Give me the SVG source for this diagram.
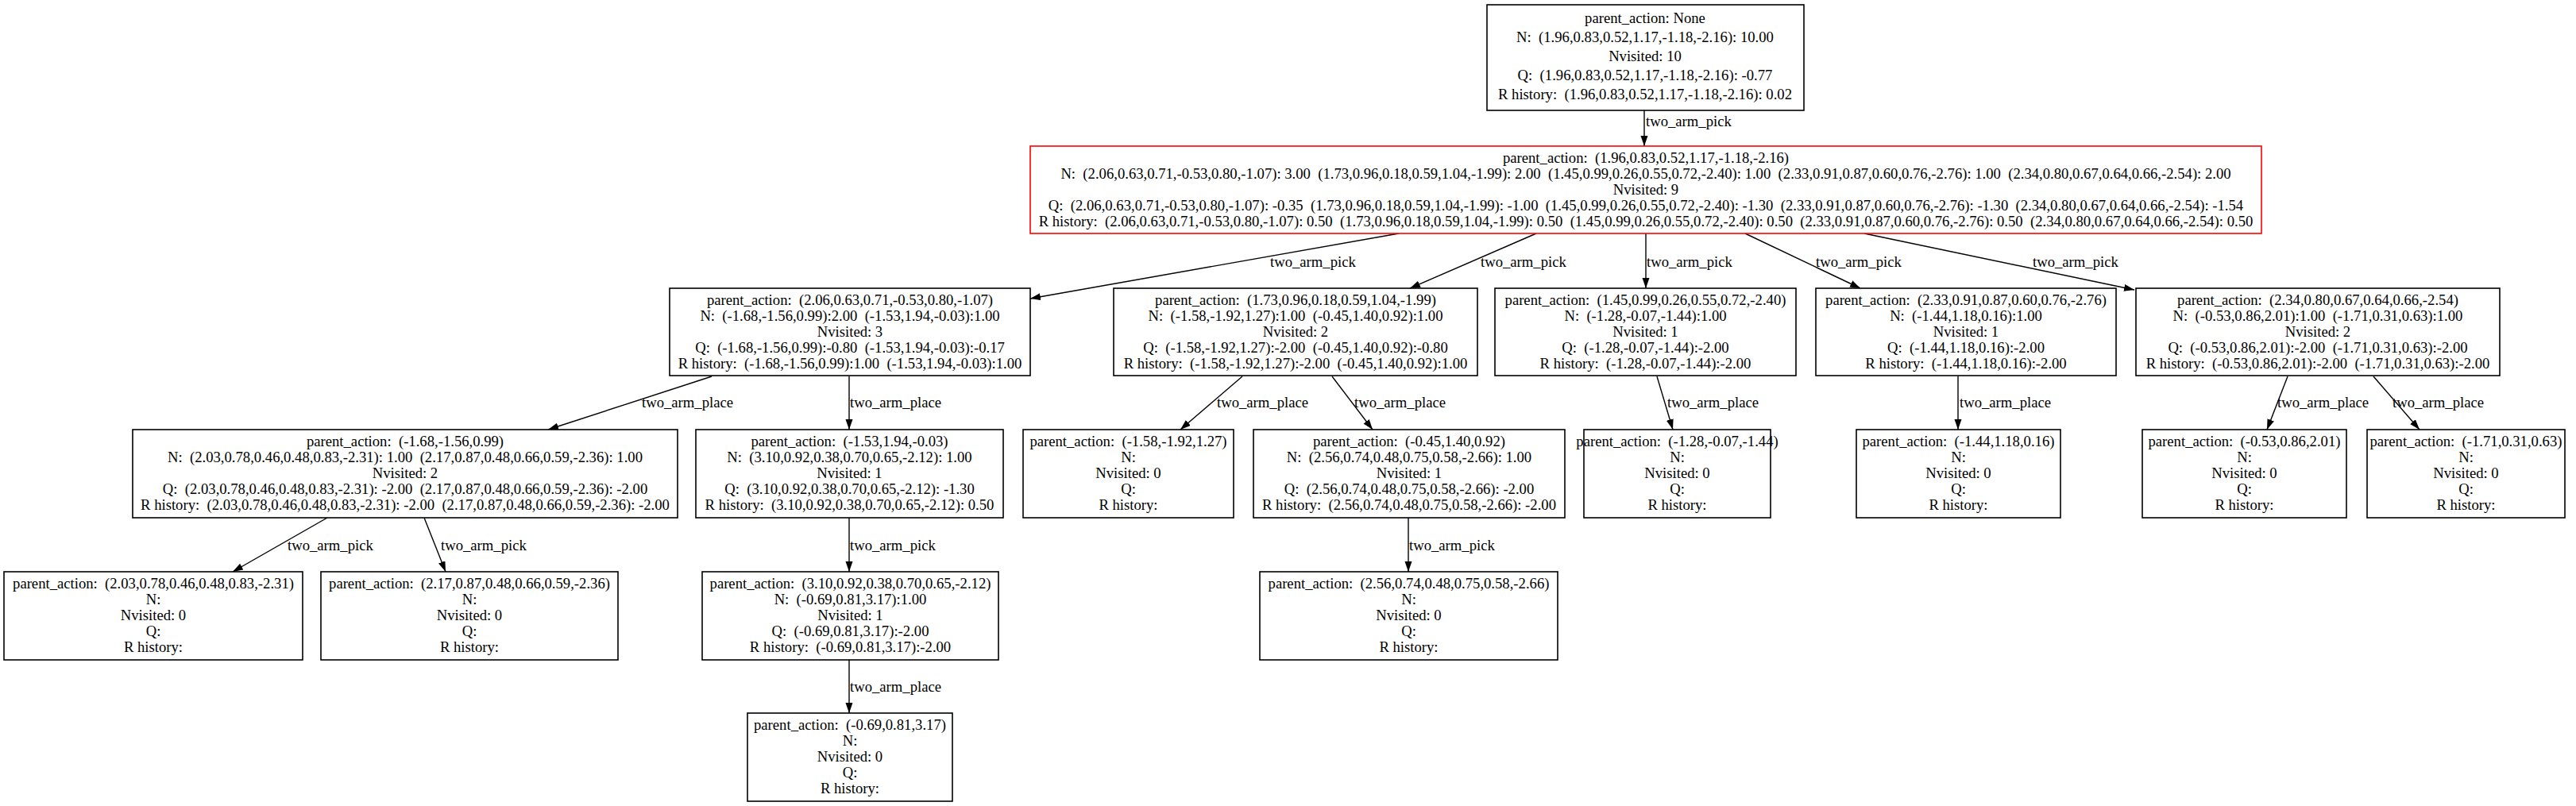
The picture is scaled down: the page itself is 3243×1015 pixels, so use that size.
<svg xmlns="http://www.w3.org/2000/svg" width="3243" height="1015" viewBox="0 0 3243 1015" xml:space="preserve">
<style>
.bg{fill:#ffffff}
.box{fill:#ffffff;stroke:#000000;stroke-width:1.6}
.hl{fill:#ffffff;stroke:#ff0000;stroke-width:1.6}
text{font-family:"Liberation Serif","Times New Roman",serif;font-size:18.67px;fill:#000000;white-space:pre}
.c{text-anchor:middle}
.lbl{text-anchor:start}
.edge{fill:none;stroke:#000000;stroke-width:1.4}
</style>
<defs>
<marker id="arr" markerUnits="userSpaceOnUse" markerWidth="14" markerHeight="10" refX="13" refY="4.5" orient="auto">
<path d="M0,0 L13,4.5 L0,9 z" fill="#000000"/>
</marker>
</defs>
<rect class="bg" x="0" y="0" width="3243" height="1015"/>

<g id="edges">
<path class="edge" marker-end="url(#arr)" d="M2070,139 L2070,184"/>
<text class="lbl" x="2072" y="159">two_arm_pick</text>
<path class="edge" marker-end="url(#arr)" d="M1761,294 L1297,376"/>
<text class="lbl" x="1599" y="336">two_arm_pick</text>
<path class="edge" marker-end="url(#arr)" d="M1934,294 L1775,363"/>
<text class="lbl" x="1864" y="336">two_arm_pick</text>
<path class="edge" marker-end="url(#arr)" d="M2072,294 L2072,363"/>
<text class="lbl" x="2073" y="336">two_arm_pick</text>
<path class="edge" marker-end="url(#arr)" d="M2197,294 L2342,363"/>
<text class="lbl" x="2286" y="336">two_arm_pick</text>
<path class="edge" marker-end="url(#arr)" d="M2347,294 L2687,365"/>
<text class="lbl" x="2559" y="336">two_arm_pick</text>

<path class="edge" marker-end="url(#arr)" d="M896,474 L690,541"/>
<text class="lbl" x="808" y="513">two_arm_place</text>
<path class="edge" marker-end="url(#arr)" d="M1069,474 L1069,541"/>
<text class="lbl" x="1070" y="513">two_arm_place</text>
<path class="edge" marker-end="url(#arr)" d="M1564,474 L1486,541"/>
<text class="lbl" x="1532" y="513">two_arm_place</text>
<path class="edge" marker-end="url(#arr)" d="M1677,474 L1728,541"/>
<text class="lbl" x="1705" y="513">two_arm_place</text>
<path class="edge" marker-end="url(#arr)" d="M2086,474 L2106,541"/>
<text class="lbl" x="2099" y="513">two_arm_place</text>
<path class="edge" marker-end="url(#arr)" d="M2465,474 L2465,541"/>
<text class="lbl" x="2467" y="513">two_arm_place</text>
<path class="edge" marker-end="url(#arr)" d="M2880,474 L2854,541"/>
<text class="lbl" x="2867" y="513">two_arm_place</text>
<path class="edge" marker-end="url(#arr)" d="M2988,474 L3046,541"/>
<text class="lbl" x="3012" y="513">two_arm_place</text>

<path class="edge" marker-end="url(#arr)" d="M412,652 L293,720"/>
<text class="lbl" x="362" y="693">two_arm_pick</text>
<path class="edge" marker-end="url(#arr)" d="M534,652 L561,720"/>
<text class="lbl" x="555" y="693">two_arm_pick</text>
<path class="edge" marker-end="url(#arr)" d="M1069,652 L1069,720"/>
<text class="lbl" x="1070" y="693">two_arm_pick</text>
<path class="edge" marker-end="url(#arr)" d="M1773,652 L1773,720"/>
<text class="lbl" x="1774" y="693">two_arm_pick</text>

<path class="edge" marker-end="url(#arr)" d="M1069,831 L1069,898"/>
<text class="lbl" x="1070" y="871">two_arm_place</text>
</g>

<g id="root">
<rect class="box" x="1872" y="6" width="399" height="133"/>
<text class="c" x="2071" y="29">parent_action: None</text>
<text class="c" x="2071" y="53">N:  (1.96,0.83,0.52,1.17,-1.18,-2.16): 10.00</text>
<text class="c" x="2071" y="77">Nvisited: 10</text>
<text class="c" x="2071" y="101">Q:  (1.96,0.83,0.52,1.17,-1.18,-2.16): -0.77</text>
<text class="c" x="2071" y="125">R history:  (1.96,0.83,0.52,1.17,-1.18,-2.16): 0.02</text>
</g>

<g id="n1">
<rect class="hl" x="1297" y="184" width="1550" height="110"/>
<text class="c" x="2072" y="205">parent_action:  (1.96,0.83,0.52,1.17,-1.18,-2.16)</text>
<text class="c" x="2072" y="225">N:  (2.06,0.63,0.71,-0.53,0.80,-1.07): 3.00  (1.73,0.96,0.18,0.59,1.04,-1.99): 2.00  (1.45,0.99,0.26,0.55,0.72,-2.40): 1.00  (2.33,0.91,0.87,0.60,0.76,-2.76): 1.00  (2.34,0.80,0.67,0.64,0.66,-2.54): 2.00</text>
<text class="c" x="2072" y="245">Nvisited: 9</text>
<text class="c" x="2072" y="265">Q:  (2.06,0.63,0.71,-0.53,0.80,-1.07): -0.35  (1.73,0.96,0.18,0.59,1.04,-1.99): -1.00  (1.45,0.99,0.26,0.55,0.72,-2.40): -1.30  (2.33,0.91,0.87,0.60,0.76,-2.76): -1.30  (2.34,0.80,0.67,0.64,0.66,-2.54): -1.54</text>
<text class="c" x="2072" y="285">R history:  (2.06,0.63,0.71,-0.53,0.80,-1.07): 0.50  (1.73,0.96,0.18,0.59,1.04,-1.99): 0.50  (1.45,0.99,0.26,0.55,0.72,-2.40): 0.50  (2.33,0.91,0.87,0.60,0.76,-2.76): 0.50  (2.34,0.80,0.67,0.64,0.66,-2.54): 0.50</text>
</g>

<g id="nA">
<rect class="box" x="843" y="363" width="454" height="110"/>
<text class="c" x="1070" y="384">parent_action:  (2.06,0.63,0.71,-0.53,0.80,-1.07)</text>
<text class="c" x="1070" y="404">N:  (-1.68,-1.56,0.99):2.00  (-1.53,1.94,-0.03):1.00</text>
<text class="c" x="1070" y="424">Nvisited: 3</text>
<text class="c" x="1070" y="444">Q:  (-1.68,-1.56,0.99):-0.80  (-1.53,1.94,-0.03):-0.17</text>
<text class="c" x="1070" y="464">R history:  (-1.68,-1.56,0.99):1.00  (-1.53,1.94,-0.03):1.00</text>
</g>

<g id="nB">
<rect class="box" x="1402" y="363" width="458" height="110"/>
<text class="c" x="1631" y="384">parent_action:  (1.73,0.96,0.18,0.59,1.04,-1.99)</text>
<text class="c" x="1631" y="404">N:  (-1.58,-1.92,1.27):1.00  (-0.45,1.40,0.92):1.00</text>
<text class="c" x="1631" y="424">Nvisited: 2</text>
<text class="c" x="1631" y="444">Q:  (-1.58,-1.92,1.27):-2.00  (-0.45,1.40,0.92):-0.80</text>
<text class="c" x="1631" y="464">R history:  (-1.58,-1.92,1.27):-2.00  (-0.45,1.40,0.92):1.00</text>
</g>

<g id="nC">
<rect class="box" x="1882" y="363" width="379" height="110"/>
<text class="c" x="2071.5" y="384">parent_action:  (1.45,0.99,0.26,0.55,0.72,-2.40)</text>
<text class="c" x="2071.5" y="404">N:  (-1.28,-0.07,-1.44):1.00</text>
<text class="c" x="2071.5" y="424">Nvisited: 1</text>
<text class="c" x="2071.5" y="444">Q:  (-1.28,-0.07,-1.44):-2.00</text>
<text class="c" x="2071.5" y="464">R history:  (-1.28,-0.07,-1.44):-2.00</text>
</g>

<g id="nD">
<rect class="box" x="2286" y="363" width="378" height="110"/>
<text class="c" x="2475" y="384">parent_action:  (2.33,0.91,0.87,0.60,0.76,-2.76)</text>
<text class="c" x="2475" y="404">N:  (-1.44,1.18,0.16):1.00</text>
<text class="c" x="2475" y="424">Nvisited: 1</text>
<text class="c" x="2475" y="444">Q:  (-1.44,1.18,0.16):-2.00</text>
<text class="c" x="2475" y="464">R history:  (-1.44,1.18,0.16):-2.00</text>
</g>

<g id="nE">
<rect class="box" x="2689" y="363" width="458" height="110"/>
<text class="c" x="2918" y="384">parent_action:  (2.34,0.80,0.67,0.64,0.66,-2.54)</text>
<text class="c" x="2918" y="404">N:  (-0.53,0.86,2.01):1.00  (-1.71,0.31,0.63):1.00</text>
<text class="c" x="2918" y="424">Nvisited: 2</text>
<text class="c" x="2918" y="444">Q:  (-0.53,0.86,2.01):-2.00  (-1.71,0.31,0.63):-2.00</text>
<text class="c" x="2918" y="464">R history:  (-0.53,0.86,2.01):-2.00  (-1.71,0.31,0.63):-2.00</text>
</g>

<g id="nF">
<rect class="box" x="167" y="541" width="686" height="111"/>
<text class="c" x="510" y="562">parent_action:  (-1.68,-1.56,0.99)</text>
<text class="c" x="510" y="582">N:  (2.03,0.78,0.46,0.48,0.83,-2.31): 1.00  (2.17,0.87,0.48,0.66,0.59,-2.36): 1.00</text>
<text class="c" x="510" y="602">Nvisited: 2</text>
<text class="c" x="510" y="622">Q:  (2.03,0.78,0.46,0.48,0.83,-2.31): -2.00  (2.17,0.87,0.48,0.66,0.59,-2.36): -2.00</text>
<text class="c" x="510" y="642">R history:  (2.03,0.78,0.46,0.48,0.83,-2.31): -2.00  (2.17,0.87,0.48,0.66,0.59,-2.36): -2.00</text>
</g>

<g id="nG">
<rect class="box" x="876" y="541" width="387" height="111"/>
<text class="c" x="1069.5" y="562">parent_action:  (-1.53,1.94,-0.03)</text>
<text class="c" x="1069.5" y="582">N:  (3.10,0.92,0.38,0.70,0.65,-2.12): 1.00</text>
<text class="c" x="1069.5" y="602">Nvisited: 1</text>
<text class="c" x="1069.5" y="622">Q:  (3.10,0.92,0.38,0.70,0.65,-2.12): -1.30</text>
<text class="c" x="1069.5" y="642">R history:  (3.10,0.92,0.38,0.70,0.65,-2.12): 0.50</text>
</g>

<g id="nH">
<rect class="box" x="1288" y="541" width="265" height="111"/>
<text class="c" x="1420.5" y="562">parent_action:  (-1.58,-1.92,1.27)</text>
<text class="c" x="1420.5" y="582">N:</text>
<text class="c" x="1420.5" y="602">Nvisited: 0</text>
<text class="c" x="1420.5" y="622">Q:</text>
<text class="c" x="1420.5" y="642">R history:</text>
</g>

<g id="nI">
<rect class="box" x="1578" y="541" width="392" height="111"/>
<text class="c" x="1774" y="562">parent_action:  (-0.45,1.40,0.92)</text>
<text class="c" x="1774" y="582">N:  (2.56,0.74,0.48,0.75,0.58,-2.66): 1.00</text>
<text class="c" x="1774" y="602">Nvisited: 1</text>
<text class="c" x="1774" y="622">Q:  (2.56,0.74,0.48,0.75,0.58,-2.66): -2.00</text>
<text class="c" x="1774" y="642">R history:  (2.56,0.74,0.48,0.75,0.58,-2.66): -2.00</text>
</g>

<g id="nJ">
<rect class="box" x="1994" y="541" width="235" height="111"/>
<text class="c" x="2111.5" y="562">parent_action:  (-1.28,-0.07,-1.44)</text>
<text class="c" x="2111.5" y="582">N:</text>
<text class="c" x="2111.5" y="602">Nvisited: 0</text>
<text class="c" x="2111.5" y="622">Q:</text>
<text class="c" x="2111.5" y="642">R history:</text>
</g>

<g id="nK">
<rect class="box" x="2337" y="541" width="257" height="111"/>
<text class="c" x="2465.5" y="562">parent_action:  (-1.44,1.18,0.16)</text>
<text class="c" x="2465.5" y="582">N:</text>
<text class="c" x="2465.5" y="602">Nvisited: 0</text>
<text class="c" x="2465.5" y="622">Q:</text>
<text class="c" x="2465.5" y="642">R history:</text>
</g>

<g id="nL">
<rect class="box" x="2697" y="541" width="257" height="111"/>
<text class="c" x="2825.5" y="562">parent_action:  (-0.53,0.86,2.01)</text>
<text class="c" x="2825.5" y="582">N:</text>
<text class="c" x="2825.5" y="602">Nvisited: 0</text>
<text class="c" x="2825.5" y="622">Q:</text>
<text class="c" x="2825.5" y="642">R history:</text>
</g>

<g id="nM">
<rect class="box" x="2980" y="541" width="249" height="111"/>
<text class="c" x="3104.5" y="562">parent_action:  (-1.71,0.31,0.63)</text>
<text class="c" x="3104.5" y="582">N:</text>
<text class="c" x="3104.5" y="602">Nvisited: 0</text>
<text class="c" x="3104.5" y="622">Q:</text>
<text class="c" x="3104.5" y="642">R history:</text>
</g>

<g id="nN">
<rect class="box" x="5" y="720" width="376" height="111"/>
<text class="c" x="193" y="741">parent_action:  (2.03,0.78,0.46,0.48,0.83,-2.31)</text>
<text class="c" x="193" y="761">N:</text>
<text class="c" x="193" y="781">Nvisited: 0</text>
<text class="c" x="193" y="801">Q:</text>
<text class="c" x="193" y="821">R history:</text>
</g>

<g id="nO">
<rect class="box" x="404" y="720" width="374" height="111"/>
<text class="c" x="591" y="741">parent_action:  (2.17,0.87,0.48,0.66,0.59,-2.36)</text>
<text class="c" x="591" y="761">N:</text>
<text class="c" x="591" y="781">Nvisited: 0</text>
<text class="c" x="591" y="801">Q:</text>
<text class="c" x="591" y="821">R history:</text>
</g>

<g id="nP">
<rect class="box" x="884" y="720" width="373" height="111"/>
<text class="c" x="1070.5" y="741">parent_action:  (3.10,0.92,0.38,0.70,0.65,-2.12)</text>
<text class="c" x="1070.5" y="761">N:  (-0.69,0.81,3.17):1.00</text>
<text class="c" x="1070.5" y="781">Nvisited: 1</text>
<text class="c" x="1070.5" y="801">Q:  (-0.69,0.81,3.17):-2.00</text>
<text class="c" x="1070.5" y="821">R history:  (-0.69,0.81,3.17):-2.00</text>
</g>

<g id="nQ">
<rect class="box" x="1586" y="720" width="375" height="111"/>
<text class="c" x="1773.5" y="741">parent_action:  (2.56,0.74,0.48,0.75,0.58,-2.66)</text>
<text class="c" x="1773.5" y="761">N:</text>
<text class="c" x="1773.5" y="781">Nvisited: 0</text>
<text class="c" x="1773.5" y="801">Q:</text>
<text class="c" x="1773.5" y="821">R history:</text>
</g>

<g id="nR">
<rect class="box" x="941" y="898" width="258" height="111"/>
<text class="c" x="1070" y="919">parent_action:  (-0.69,0.81,3.17)</text>
<text class="c" x="1070" y="939">N:</text>
<text class="c" x="1070" y="959">Nvisited: 0</text>
<text class="c" x="1070" y="979">Q:</text>
<text class="c" x="1070" y="999">R history:</text>
</g>
</svg>
